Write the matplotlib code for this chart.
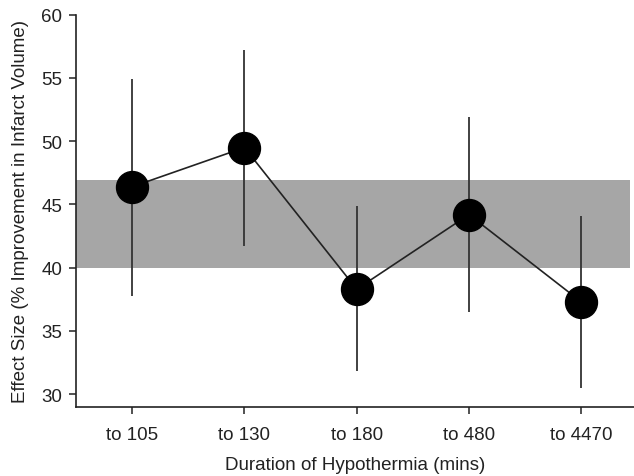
import matplotlib.pyplot as plt
import numpy as np

plt.rcParams['font.family'] = ['Liberation Sans', 'DejaVu Sans']

# data
groups = ['to 105', 'to 130', 'to 180', 'to 480', 'to 4470']
effect = [46.4, 49.5, 38.3, 44.2, 37.3]
err_high = [54.9, 57.2, 44.9, 51.9, 44.1]
err_low = [37.8, 41.7, 31.8, 36.5, 30.5]
band_low, band_high = 40.0, 46.9

x = np.arange(1, len(groups) + 1)
effect = np.array(effect)
yerr = [effect - np.array(err_low), np.array(err_high) - effect]

fig = plt.figure(figsize=(6.34, 4.77), dpi=100)
ax = fig.add_axes([0.12, 0.145, 0.88, 0.822])

ax.fill_between([0.5, 5.43], band_low, band_high, color='#a6a6a6', lw=0, zorder=1)
ax.errorbar(x, effect, yerr=yerr, fmt='none', ecolor='#333333', elinewidth=1.3, capsize=0, zorder=2)
ax.plot(x, effect, '-', color='#222222', lw=1.2, zorder=3)
ax.plot(x, effect, 'o', color='black', markersize=23, zorder=4)

ax.set_xlim(0.5, 5.47)
ax.set_ylim(29, 60)
ax.set_yticks(range(30, 61, 5))
ax.set_xticks(x)
ax.set_xticklabels(groups)
ax.spines['top'].set_visible(False)
ax.spines['right'].set_visible(False)
ax.spines['left'].set_bounds(29, 60)
for s in ['left', 'bottom']:
    ax.spines[s].set_linewidth(1.2)
    ax.spines[s].set_color('#222222')
ax.tick_params(direction='out', length=5, width=1.1, labelsize=13.5, colors='#222222', pad=5)
ax.tick_params(axis='x', pad=9)

ax.set_xlabel('Duration of Hypothermia (mins)', fontsize=13.5, color='#222222', labelpad=9)
ax.set_ylabel('Effect Size (% Improvement in Infarct Volume)', fontsize=13.5, color='#222222', labelpad=9)

fig.savefig('out.png', dpi=100)
